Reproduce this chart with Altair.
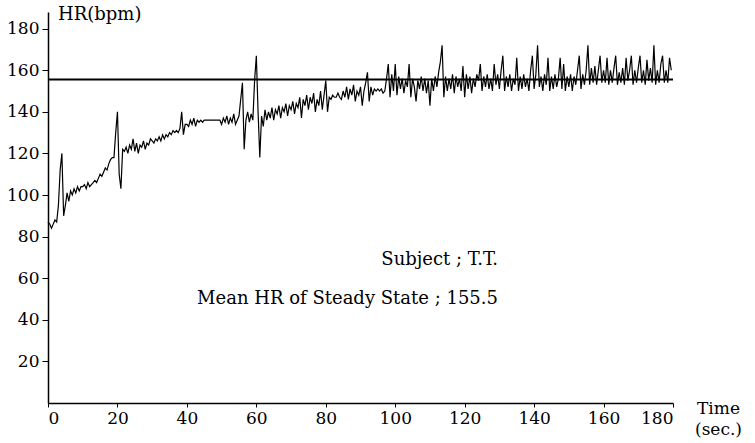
import altair as alt
import pandas as pd

# HR values every 0.5 s, one row per 10 s
seg = [
    [87, 86, 84, 86, 88, 87, 95, 112, 120, 90, 95, 101, 97, 102, 100, 103, 101, 104, 102, 104],
    [104, 105, 103, 106, 104, 105, 106, 107, 106, 108, 110, 109, 111, 113, 112, 115, 117, 118, 118, 130],
    [140, 110, 103, 122, 121, 123, 120, 124, 122, 127, 121, 125, 120, 124, 123, 126, 122, 125, 124, 127],
    [126, 125, 127, 126, 128, 126, 129, 127, 129, 128, 130, 129, 131, 130, 131, 130, 132, 140, 129, 134],
    [134, 133, 136, 134, 137, 133, 136, 135, 136, 135, 136, 136, 136, 136, 136, 136, 136, 136, 136, 136],
    [134, 137, 135, 138, 134, 137, 135, 139, 134, 136, 138, 146, 154, 122, 136, 140, 135, 139, 136, 155],
    [167, 140, 118, 138, 133, 141, 136, 140, 137, 142, 136, 141, 139, 143, 137, 142, 140, 144, 138, 143],
    [141, 145, 139, 144, 142, 147, 137, 146, 143, 148, 141, 147, 144, 149, 140, 146, 143, 150, 141, 148],
    [155, 140, 147, 146, 148, 147, 147, 149, 147, 146, 150, 147, 152, 146, 151, 148, 153, 145, 150, 148],
    [152, 143, 150, 154, 159, 145, 152, 148, 151, 150, 151, 150, 151, 149, 150, 156, 163, 147, 158, 150],
    [163, 148, 157, 151, 156, 149, 155, 152, 163, 147, 156, 152, 145, 155, 151, 157, 150, 156, 149, 155],
    [143, 156, 150, 157, 152, 159, 164, 172, 147, 157, 150, 156, 151, 158, 149, 157, 152, 156, 150, 162],
    [147, 158, 151, 157, 149, 156, 152, 158, 155, 163, 150, 157, 152, 158, 151, 156, 150, 163, 153, 158],
    [151, 160, 167, 150, 157, 152, 158, 150, 156, 153, 166, 150, 157, 151, 158, 152, 156, 150, 160, 167],
    [151, 158, 172, 152, 157, 150, 158, 153, 166, 150, 157, 151, 158, 152, 156, 166, 151, 163, 150, 157],
    [152, 158, 150, 157, 153, 160, 167, 151, 158, 153, 160, 172, 153, 161, 154, 162, 153, 160, 167, 154],
    [160, 154, 166, 153, 160, 154, 161, 167, 153, 159, 154, 161, 153, 166, 155, 160, 167, 153, 160, 154],
    [161, 167, 154, 160, 153, 165, 155, 161, 154, 172, 153, 160, 154, 163, 167, 154, 160, 154, 166, 160],
]
hr = [v for row in seg for v in row]
time = [i * 0.5 for i in range(len(hr))]

mean_hr = 155.5
x_ticks = [0, 20, 40, 60, 80, 100, 120, 140, 160, 180]
y_ticks = [20, 40, 60, 80, 100, 120, 140, 160, 180]

FONT = "DejaVu Serif"

df = pd.DataFrame({"t": time, "hr": hr})

xscale = alt.Scale(domain=[0, 180], nice=False, zero=False)
yscale = alt.Scale(domain=[0, 188], nice=False)

line = alt.Chart(df).mark_line(color="black", strokeWidth=1.2).encode(
    x=alt.X("t:Q", scale=xscale,
            axis=alt.Axis(values=x_ticks, title=None, grid=False, tickSize=4,
                          labelFont=FONT, labelFontSize=17, labelPadding=3,
                          labelColor="black", domainColor="black", tickColor="black",
                          domainWidth=1.5)),
    y=alt.Y("hr:Q", scale=yscale,
            axis=alt.Axis(values=y_ticks, title=None, grid=False, tickSize=6,
                          labelFont=FONT, labelFontSize=17, labelPadding=3,
                          labelColor="black", domainColor="black", tickColor="black",
                          domainWidth=1.5)),
)

mean_rule = alt.Chart(pd.DataFrame({"m": [mean_hr]})).mark_rule(
    color="black", strokeWidth=2
).encode(
    y=alt.Y("m:Q", scale=yscale),
    x=alt.datum(0),
    x2=alt.datum(180),
)


def label(txt, x, y, align="left", size=18):
    return alt.Chart(pd.DataFrame({"s": [txt]})).mark_text(
        font=FONT, fontSize=size, color="black", align=align, baseline="middle"
    ).encode(text="s:N", x=alt.value(x), y=alt.value(y))


chart = alt.layer(
    line,
    mean_rule,
    label("HR(bpm)", 10, 3),
    label("Subject ; T.T.", 450, 248, align="right"),
    label("Mean HR of Steady State ; 155.5", 450, 287, align="right"),
    label("Time", 649, 397, size=17),
    label("(sec.)", 647, 418, size=17),
).properties(
    width=625,
    height=391,
    autosize=alt.AutoSizeParams(type="none"),
    padding={"left": 48, "top": 12, "right": 82, "bottom": 40},
    background="white",
).configure_view(strokeWidth=0)

chart.save("out.html", embed_options={"renderer": "svg", "actions": False})
